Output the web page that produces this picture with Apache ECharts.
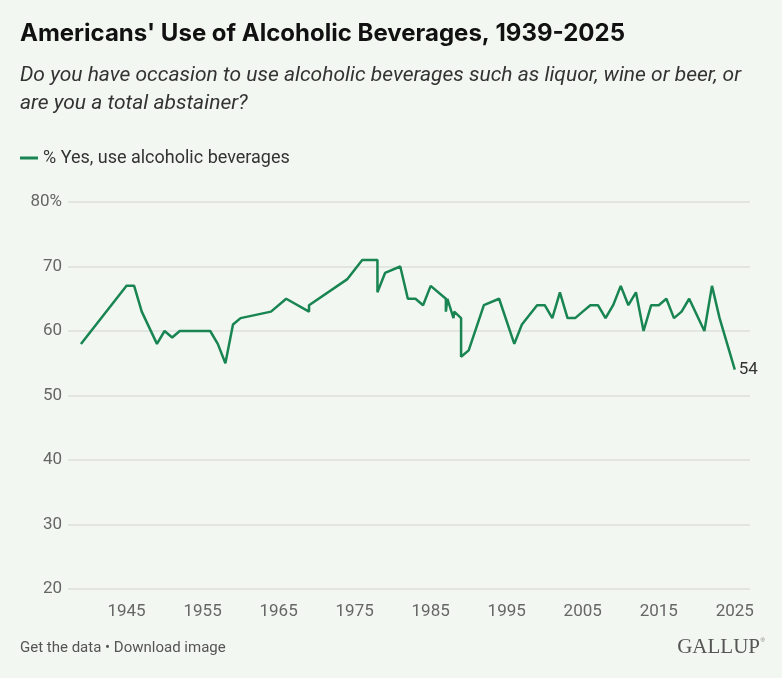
<!DOCTYPE html>
<html>
<head>
<meta charset="utf-8">
<title>Americans' Use of Alcoholic Beverages, 1939-2025</title>
<script src="https://cdn.jsdelivr.net/npm/echarts@6/dist/echarts.min.js"></script>
<style>
  html, body { margin: 0; padding: 0; background: #f3f7f1; }
  #chart { width: 782px; height: 678px; }
</style>
</head>
<body>
<div id="chart"></div>
<script>
// survey years (repeated years = more than one poll that year)
var years = [1939, 1945, 1946, 1947, 1949, 1950, 1951, 1952, 1956, 1957, 1958, 1959, 1960,
  1964, 1966, 1969, 1969, 1974, 1976, 1977, 1978, 1978, 1979, 1981, 1982, 1983, 1984, 1985,
  1987, 1987, 1987.2, 1988, 1988.1, 1989, 1989, 1990, 1992, 1994, 1996, 1997, 1999, 2000,
  2001, 2002, 2003, 2004, 2005, 2006, 2007, 2008, 2009, 2010, 2011, 2012, 2013, 2014, 2015,
  2016, 2017, 2018, 2019, 2021, 2022, 2023, 2024, 2025];
var yesPct = [58, 67, 67, 63, 58, 60, 59, 60, 60, 58, 55, 61, 62,
  63, 65, 63, 64, 68, 71, 71, 71, 66, 69, 70, 65, 65, 64, 67,
  65, 63, 65, 62, 63, 62, 56, 57, 64, 65, 58, 61, 64, 64,
  62, 66, 62, 62, 63, 64, 64, 62, 64, 67, 64, 66, 60, 64, 64,
  65, 62, 63, 65, 60, 67, 62, 58, 54];
var yearTicks = [1945, 1955, 1965, 1975, 1985, 1995, 2005, 2015, 2025];

var seriesData = years.map(function (y, i) { return [y, yesPct[i]]; });

var chart = echarts.init(document.getElementById('chart'), null, {renderer: 'canvas'});

var green = '#188552';
var font = 'Roboto, "Liberation Sans", sans-serif';

chart.setOption({
  backgroundColor: '#f3f7f1',
  animation: false,
  title: {
    text: "Americans' Use of Alcoholic Beverages, 1939-2025",
    left: 15,
    top: 17,
    textStyle: {fontFamily: 'Inter, Roboto, sans-serif', fontSize: 24, fontWeight: 'bold', color: '#111'}
  },
  graphic: [
    {
      type: 'text', left: 20, top: 62,
      style: {
        text: 'Do you have occasion to use alcoholic beverages such as liquor, wine or beer, or\nare you a total abstainer?',
        font: 'italic 21px ' + font, fill: '#333', lineHeight: 28
      }
    },
    {
      type: 'text', left: 20, top: 641,
      style: {text: 'Get the data \u2022 Download image', font: '15px ' + font, fill: '#555'}
    },
    {
      type: 'text', right: 22, top: 637,
      style: {text: 'GALLUP', font: '21px "Liberation Serif", "DejaVu Serif", serif', fill: '#555'}
    },
    {
      type: 'text', right: 17, top: 637,
      style: {text: '\u00ae', font: '6px sans-serif', fill: '#777'}
    }
  ],
  legend: {
    left: 15,
    top: 144,
    icon: 'rect',
    itemWidth: 18,
    itemHeight: 3,
    itemGap: 6,
    textStyle: {fontFamily: font, fontSize: 18, color: '#333'},
    data: ['% Yes, use alcoholic beverages']
  },
  grid: {left: 68, right: 32, top: 202, bottom: 89},
  xAxis: {
    type: 'value',
    min: 1937.3,
    max: 2027,
    axisLine: {show: false},
    axisTick: {show: false},
    splitLine: {show: false},
    axisLabel: {
      customValues: yearTicks,
      color: '#666', fontFamily: font, fontSize: 17, margin: 14,
      formatter: function (v) { return String(v); }
    }
  },
  yAxis: {
    type: 'value',
    min: 20,
    max: 80,
    interval: 10,
    axisLine: {show: false},
    axisTick: {show: false},
    splitLine: {lineStyle: {color: '#dcdfda', width: 1.5}},
    axisLabel: {
      color: '#666', fontFamily: font, fontSize: 17, margin: 6,
      formatter: function (v) { return v === 80 ? '80%' : String(v); }
    }
  },
  series: [{
    name: '% Yes, use alcoholic beverages',
    type: 'line',
    data: seriesData,
    symbol: 'none',
    color: green,
    lineStyle: {color: green, width: 2.5},
    endLabel: {
      show: true,
      formatter: function (p) { return p.value[1]; },
      color: '#333', fontFamily: font, fontSize: 17, distance: 4
    }
  }]
});
</script>
</body>
</html>
